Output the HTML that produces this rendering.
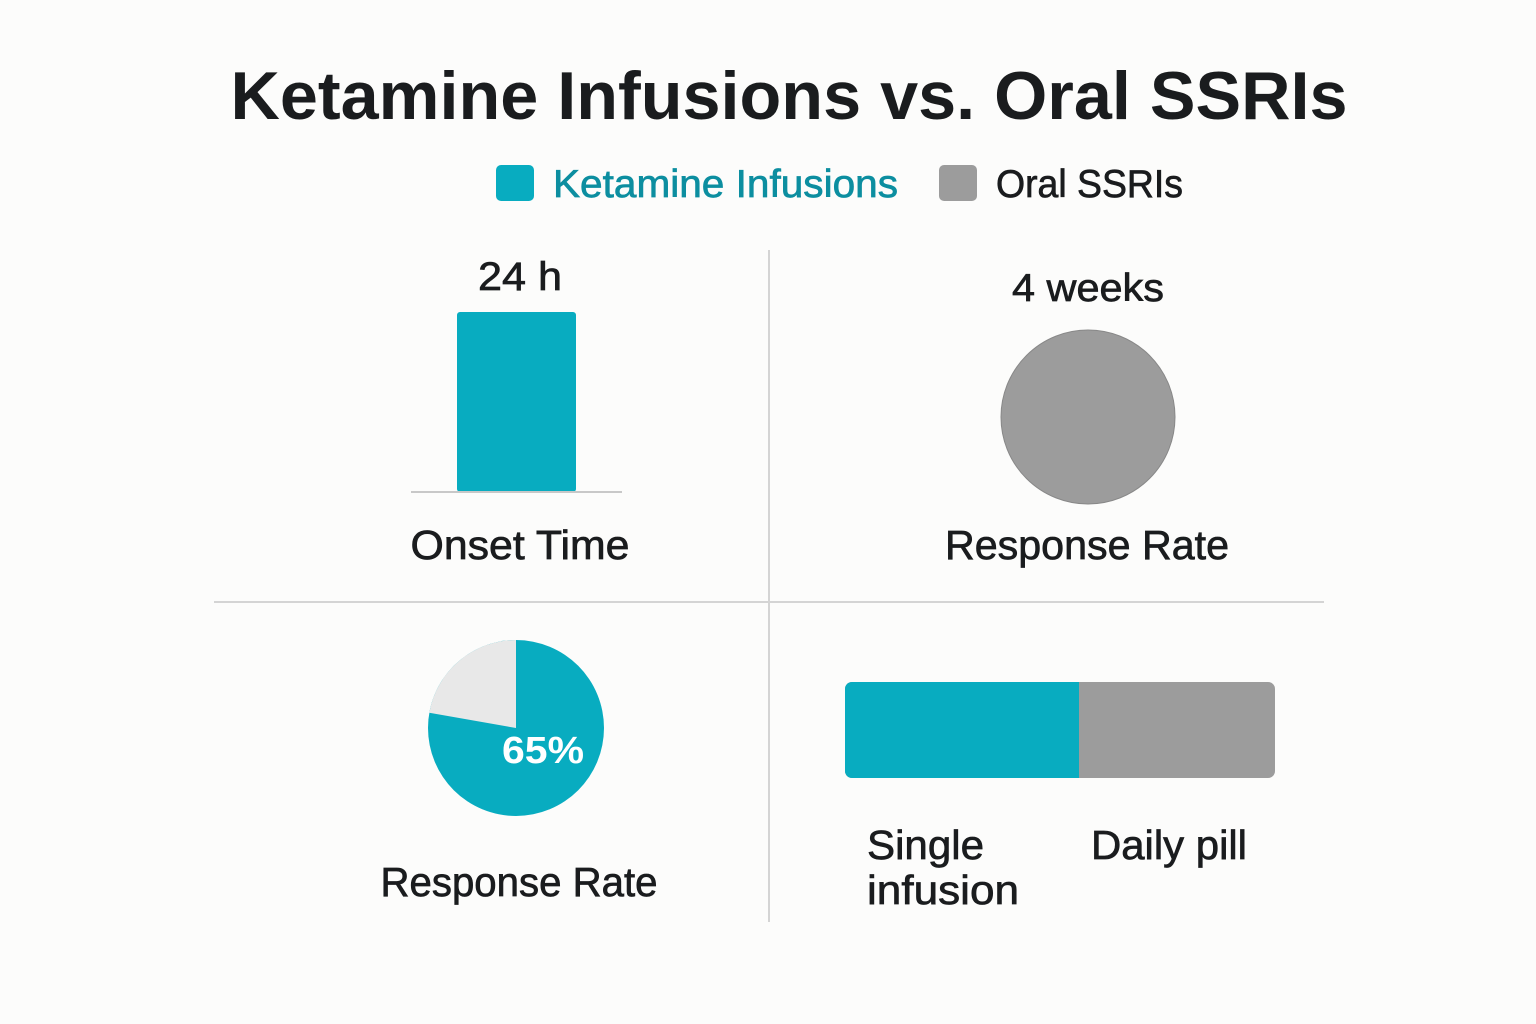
<!DOCTYPE html>
<html><head><meta charset="utf-8"><style>
html,body{margin:0;padding:0;background:#fcfcfb;}
svg{display:block;}
text{font-family:"Liberation Sans",sans-serif;}
.m{stroke-width:0.7;}
</style></head><body>
<svg width="1536" height="1024" viewBox="0 0 1536 1024" xmlns="http://www.w3.org/2000/svg">
<rect width="1536" height="1024" fill="#fcfcfb"/>
<text x="789" y="119" text-anchor="middle" font-size="68" font-weight="bold" fill="#1a1c1e" textLength="1117" lengthAdjust="spacingAndGlyphs">Ketamine Infusions vs. Oral SSRIs</text>
<rect x="496" y="165" width="38" height="36" rx="5" fill="#08acc0"/>
<text x="553" y="197" font-size="39" fill="#0c8ea0" stroke="#0c8ea0" class="m" textLength="345" lengthAdjust="spacingAndGlyphs">Ketamine Infusions</text>
<rect x="939" y="165" width="38" height="36" rx="5" fill="#9c9c9c"/>
<text x="996" y="197" font-size="39" fill="#1a1c1e" stroke="#1a1c1e" class="m" textLength="187" lengthAdjust="spacingAndGlyphs">Oral SSRIs</text>
<line x1="769" y1="250" x2="769" y2="922" stroke="#d4d4d4" stroke-width="2"/>
<line x1="214" y1="602" x2="1324" y2="602" stroke="#d4d4d4" stroke-width="2"/>
<text x="520" y="290" text-anchor="middle" font-size="40" fill="#1a1c1e" stroke="#1a1c1e" class="m" textLength="84" lengthAdjust="spacingAndGlyphs">24 h</text>
<rect x="457" y="312" width="119" height="180" rx="3" fill="#08acc0"/>
<line x1="411" y1="492" x2="622" y2="492" stroke="#c8c8c8" stroke-width="2"/>
<text x="520" y="559" text-anchor="middle" font-size="41" fill="#1a1c1e" stroke="#1a1c1e" class="m" textLength="219" lengthAdjust="spacingAndGlyphs">Onset Time</text>
<text x="1088" y="301" text-anchor="middle" font-size="39" fill="#1a1c1e" stroke="#1a1c1e" class="m" textLength="152" lengthAdjust="spacingAndGlyphs">4 weeks</text>
<circle cx="1088" cy="417" r="87" fill="#9c9c9c" stroke="#888" stroke-width="1"/>
<text x="1087" y="559" text-anchor="middle" font-size="41" fill="#1a1c1e" stroke="#1a1c1e" class="m" textLength="284" lengthAdjust="spacingAndGlyphs">Response Rate</text>
<circle cx="516" cy="728" r="88" fill="#08acc0"/>
<path d="M516,728 L516,640 A88,88 0 0,0 429.3,712.7 Z" fill="#e8e8e8"/>
<text x="543" y="763" text-anchor="middle" font-size="38" font-weight="bold" fill="#ffffff" textLength="82" lengthAdjust="spacingAndGlyphs">65%</text>
<text x="519" y="896" text-anchor="middle" font-size="41" fill="#1a1c1e" stroke="#1a1c1e" class="m" textLength="277" lengthAdjust="spacingAndGlyphs">Response Rate</text>
<rect x="845" y="682" width="430" height="96" rx="7" fill="#9c9c9c"/>
<path d="M852,682 L1079,682 L1079,778 L852,778 A7,7 0 0,1 845,771 L845,689 A7,7 0 0,1 852,682 Z" fill="#08acc0"/>
<text x="867" y="859" font-size="41" fill="#1a1c1e" stroke="#1a1c1e" class="m" textLength="117" lengthAdjust="spacingAndGlyphs">Single</text>
<text x="867" y="904" font-size="41" fill="#1a1c1e" stroke="#1a1c1e" class="m" textLength="152" lengthAdjust="spacingAndGlyphs">infusion</text>
<text x="1091" y="859" font-size="41" fill="#1a1c1e" stroke="#1a1c1e" class="m" textLength="156" lengthAdjust="spacingAndGlyphs">Daily pill</text>
</svg>
</body></html>
